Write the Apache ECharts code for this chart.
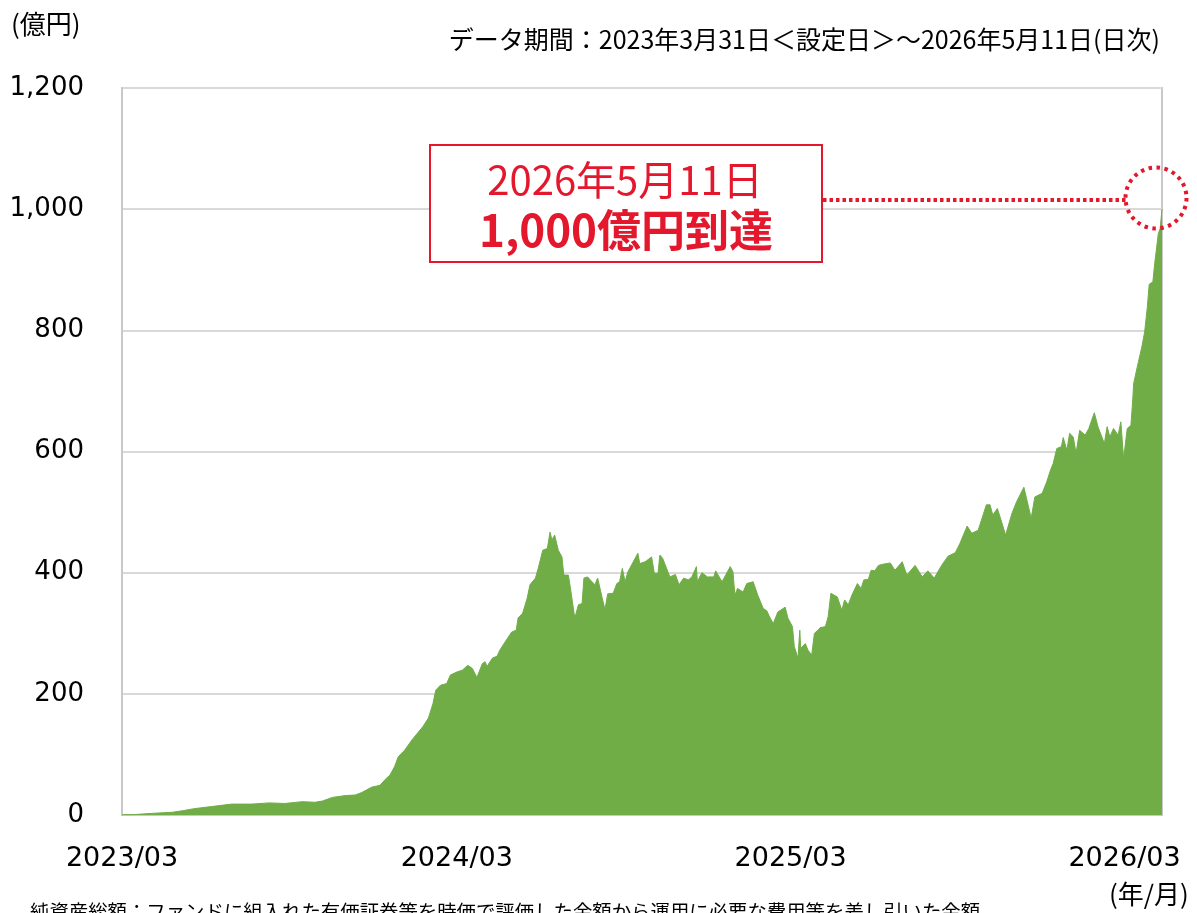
<!DOCTYPE html>
<html>
<head>
<meta charset="utf-8">
<script src="https://cdn.jsdelivr.net/npm/echarts@6.0.0/dist/echarts.min.js"></script>
<style>
  html, body { margin: 0; padding: 0; background: #fff; }
  #chart { width: 1197px; height: 913px; }
</style>
</head>
<body>
<div id="chart"></div>
<script>
// 設定日(2023/03/31)からの経過日数
const days = [
  0, 11, 36, 55, 66, 77, 87, 98, 120, 142, 161, 178, 197, 211, 219, 230, 244, 255, 262, 273,
  282, 288, 293, 298, 302, 309, 317, 323, 329, 335, 340, 343, 348, 355, 359, 366, 372, 378, 383, 388,
  394, 397, 399, 405, 410, 413, 419, 426, 431, 433, 438, 443, 446, 452, 455, 460, 465, 468, 470, 473,
  477, 481, 483, 488, 490, 495, 499, 503, 505, 509, 512, 517, 520, 525, 528, 531, 537, 541, 544, 547,
  550, 553, 559, 564, 566, 572, 579, 582, 586, 588, 591, 599, 605, 609, 614, 619, 623, 628, 629, 634,
  640, 647, 649, 656, 665, 668, 670, 673, 679, 683, 690, 695, 701, 705, 708, 712, 717, 725, 728, 733,
  735, 739, 741, 742, 747, 750, 754, 757, 761, 763, 769, 772, 775, 782, 787, 790, 794, 798, 804, 808,
  811, 816, 819, 823, 827, 832, 840, 845, 853, 858, 867, 875, 881, 888, 896, 903, 911, 916, 924, 929,
  936, 945, 949, 952, 957, 961, 966, 973, 978, 986, 994, 998, 1006, 1011, 1015, 1018, 1022, 1027, 1029, 1033,
  1036, 1040, 1043, 1047, 1053, 1057, 1063, 1067, 1074, 1077, 1080, 1084, 1089, 1092, 1095, 1099, 1103, 1105, 1106, 1110,
  1115, 1118, 1121, 1123, 1127, 1129, 1133, 1135, 1137
];

// 純資産総額(億円)
const netAssets = [
  0.3, 0.5, 3, 4.5, 7, 10, 12, 14, 18, 18, 20, 19, 22, 21, 23, 29, 32, 33, 37, 46,
  49, 59, 66, 80, 96, 107, 124, 135, 146, 160, 184, 206, 214, 217, 231, 236, 239, 247, 242, 227,
  250, 253, 245, 259, 262, 272, 286, 302, 305, 325, 333, 358, 380, 391, 407, 437, 440, 467, 454, 462,
  437, 426, 396, 396, 377, 325, 347, 349, 391, 393, 388, 380, 391, 358, 339, 365, 366, 382, 385, 407,
  385, 401, 418, 432, 415, 418, 426, 399, 399, 429, 424, 393, 397, 380, 391, 388, 393, 410, 385, 400,
  393, 393, 403, 385, 410, 401, 363, 374, 368, 382, 385, 363, 341, 337, 327, 316, 335, 343, 325, 311,
  278, 259, 305, 275, 283, 272, 264, 300, 305, 309, 311, 327, 366, 360, 338, 355, 347, 363, 382, 374,
  388, 389, 404, 403, 412, 414, 416, 404, 418, 396, 412, 393, 403, 391, 412, 427, 433, 448, 477, 465,
  470, 512, 512, 495, 506, 487, 462, 498, 517, 541, 490, 525, 531, 550, 569, 580, 605, 608, 623, 602,
  630, 624, 597, 635, 627, 638, 664, 641, 613, 641, 624, 638, 627, 649, 588, 638, 643, 685, 712, 740,
  773, 797, 839, 876, 880, 910, 960, 968, 1000
];

const tickDays = [0, 366, 731, 1096];
const tickLabels = ['2023/03', '2024/03', '2025/03', '2026/03'];

const RED = '#E3182D';
const GREEN = '#70AD47';
const JP_FONT = '"Noto Sans CJK JP", sans-serif';

const chart = echarts.init(document.getElementById('chart'));

const seriesData = days.map((d, i) => [d, netAssets[i]]);

function xLabel(v) {
  for (let i = 0; i < tickDays.length; i++) {
    if (Math.abs(v - tickDays[i]) < 3) return tickLabels[i];
  }
  return '';
}

const option = {
  backgroundColor: '#fff',
  animation: false,
  grid: {
    left: 122,
    right: 35,
    top: 88,
    bottom: 98,
    show: true,
    borderColor: '#c8c8c8',
    borderWidth: 2,
  },
  xAxis: {
    type: 'value',
    min: 0,
    max: days[days.length - 1],
    interval: 365,
    splitLine: { show: false },
    axisTick: { show: false },
    axisLine: { lineStyle: { color: '#c8c8c8', width: 2 } },
    axisLabel: {
      customValues: tickDays,
      formatter: xLabel,
      color: '#000',
      fontFamily: '"DejaVu Sans", sans-serif',
      fontSize: 27,
      margin: 30,
    },
  },
  yAxis: {
    type: 'value',
    min: 0,
    max: 1200,
    interval: 200,
    axisTick: { show: false },
    axisLine: { show: true, lineStyle: { color: '#c8c8c8', width: 2 } },
    splitLine: { lineStyle: { color: '#d9d9d9', width: 2 } },
    axisLabel: {
      formatter: v => v.toLocaleString('en-US'),
      color: '#000',
      fontFamily: '"DejaVu Sans", sans-serif',
      fontSize: 26,
      margin: 38,
    },
  },
  series: [
    {
      name: '純資産総額',
      type: 'line',
      data: seriesData,
      showSymbol: false,
      lineStyle: { width: 1, color: GREEN },
      itemStyle: { color: GREEN },
      areaStyle: { color: GREEN, opacity: 1 },
    },
  ],
  graphic: [
    {
      type: 'text', left: 11, top: 11,
      style: { text: '(億円)', font: '26px ' + JP_FONT, fill: '#000' },
    },
    {
      type: 'text', right: 37, top: 27,
      style: { text: 'データ期間：2023年3月31日＜設定日＞～2026年5月11日(日次)', font: '25px ' + JP_FONT, fill: '#000' },
    },
    {
      type: 'text', left: 1109, top: 881,
      style: { text: '(年/月)', font: '26px ' + JP_FONT, fill: '#000' },
    },
    {
      type: 'text', left: 30, top: 902,
      style: {
        text: '純資産総額：ファンドに組入れた有価証券等を時価で評価した金額から運用に必要な費用等を差し引いた金額',
        font: '19.4px ' + JP_FONT, fill: '#000',
      },
    },
    // 到達ラベル
    {
      type: 'rect', z: 100,
      shape: { x: 430, y: 145, width: 392, height: 117 },
      style: { fill: '#fff', stroke: RED, lineWidth: 2 },
    },
    {
      type: 'text', z: 101, x: 625, y: 180,
      style: { text: '2026年5月11日', font: '40px ' + JP_FONT, fill: RED, align: 'center', verticalAlign: 'middle' },
    },
    {
      type: 'text', z: 101, x: 626, y: 230,
      style: { text: '1,000億円到達', font: 'bold 44px ' + JP_FONT, fill: RED, align: 'center', verticalAlign: 'middle' },
    },
    {
      type: 'line', z: 100,
      shape: { x1: 823, y1: 200, x2: 1126, y2: 200 },
      style: { stroke: RED, lineWidth: 4, lineDash: [3.5, 3] },
    },
    {
      type: 'circle', z: 100,
      shape: { cx: 1156, cy: 198, r: 30.5 },
      style: { fill: 'none', stroke: RED, lineWidth: 4, lineDash: [3.5, 4.5] },
    },
  ],
};

chart.setOption(option);

window.addEventListener('resize', () => chart.resize());
</script>
</body>
</html>
